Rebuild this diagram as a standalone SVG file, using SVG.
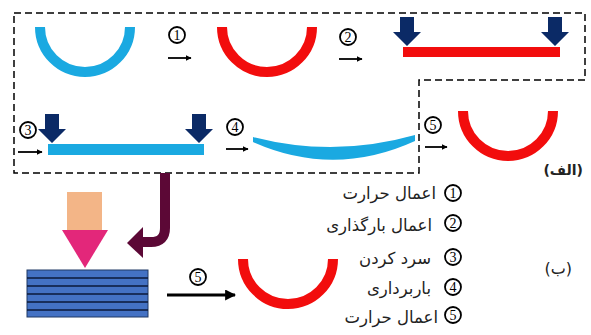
<svg xmlns="http://www.w3.org/2000/svg" width="591" height="335" viewBox="0 0 591 335">
<defs>
<style>
.blue{stroke:#1aa9e1;fill:none;stroke-width:10}
.red{stroke:#f20d0d;fill:none;stroke-width:10}
.num circle{fill:#fff;stroke:#000;stroke-width:1.8}
.num text{font-family:"Liberation Serif",serif;font-size:14px;text-anchor:middle}
.arr{stroke:#000;stroke-width:1.8;fill:none}
.lbl{font-family:"DejaVu Sans",sans-serif;font-size:16.5px;direction:rtl;fill:#222}
.press{fill:#0b2a66}
</style>
<marker id="ah" viewBox="0 0 10 10" refX="9" refY="5" markerWidth="6" markerHeight="6" orient="auto" markerUnits="userSpaceOnUse">
<path d="M0,0 L10,5 L0,10 Z" fill="#000"/>
</marker>
<marker id="ahb" viewBox="0 0 10 10" refX="9" refY="5" markerWidth="11" markerHeight="11" orient="auto" markerUnits="userSpaceOnUse">
<path d="M0,0 L10,5 L0,10 Z" fill="#000"/>
</marker>
<g id="down">
<path d="M-7,0 H7 V15 H14 L0,29 L-14,15 H-7 Z"/>
</g>
</defs>
<rect width="591" height="335" fill="#fff"/>

<g id="frame">
<path d="M14,13 H585 V80 H419 V173 H14 Z" fill="none" stroke="#000" stroke-width="1.5" stroke-dasharray="7,4"/>
</g>

<g id="part1">
<path class="blue" d="M40,27 A45,45 0 0 0 130,27"/>
</g>
<g id="part2">
<path class="red" d="M222,27 A45,45 0 0 0 312,27"/>
</g>
<g id="part3">
<rect x="403" y="47" width="157" height="10" fill="#f20d0d"/>
<use href="#down" class="press" x="407" y="17"/>
<use href="#down" class="press" x="555" y="17"/>
</g>
<g id="part4">
<rect x="48" y="144" width="156" height="11" fill="#1aa9e1"/>
<use href="#down" class="press" x="52" y="114"/>
<use href="#down" class="press" x="199" y="114"/>
</g>
<g id="part5">
<path d="M253,137 Q334,158 415,135 L415,141 Q334,178 253,142 Z" fill="#1aa9e1"/>
</g>
<g id="part6">
<path class="red" d="M463,111 A45,45 0 0 0 553,111"/>
</g>

<g id="connectors">
<line class="arr" x1="168" y1="58" x2="191" y2="58" marker-end="url(#ah)"/>
<line class="arr" x1="339" y1="59" x2="362" y2="59" marker-end="url(#ah)"/>
<line class="arr" x1="18" y1="152" x2="42" y2="152" marker-end="url(#ah)"/>
<line class="arr" x1="226" y1="149" x2="248" y2="149" marker-end="url(#ah)"/>
<line class="arr" x1="425" y1="147" x2="447" y2="147" marker-end="url(#ah)"/>
<line stroke="#000" stroke-width="3.2" x1="167" y1="295" x2="235" y2="295" marker-end="url(#ahb)"/>
<path d="M165,173 V228 Q165,242 151,242 H140" fill="none" stroke="#5c0836" stroke-width="10"/>
<path d="M143,227 L127,243 L143,258 Z" fill="#5c0836"/>
</g>

<g id="n1" class="num"><circle cx="177" cy="35" r="8"/><text x="177" y="40">1</text></g>
<g id="n2" class="num"><circle cx="348" cy="37" r="8"/><text x="348" y="42">2</text></g>
<g id="n3" class="num"><circle cx="28" cy="130" r="8"/><text x="28" y="135">3</text></g>
<g id="n4" class="num"><circle cx="235" cy="127" r="8"/><text x="235" y="132">4</text></g>
<g id="n5" class="num"><circle cx="433" cy="125" r="8"/><text x="433" y="130">5</text></g>
<g id="n5b" class="num"><circle cx="198" cy="277" r="8"/><text x="198" y="282">5</text></g>

<g id="labelA"><text x="583" y="175" font-family="DejaVu Sans,sans-serif" font-size="14" font-weight="bold" direction="rtl" fill="#222">(الف)</text></g>
<g id="labelB"><text x="572" y="274" font-family="DejaVu Sans,sans-serif" font-size="16" direction="rtl" fill="#222">(ب)</text></g>

<g id="process">
<rect x="67" y="192" width="35" height="38" fill="#f3b587"/>
<path d="M62,230 H108 L85,268 Z" fill="#e3277a"/>
</g>

<g id="stack">
<rect x="27" y="270" width="121" height="47" fill="#4472c4" stroke="#1f3864" stroke-width="1"/>
<g stroke="#0b1a3a" stroke-width="1.5">
<line x1="27" y1="278" x2="148" y2="278"/>
<line x1="27" y1="286" x2="148" y2="286"/>
<line x1="27" y1="294" x2="148" y2="294"/>
<line x1="27" y1="302" x2="148" y2="302"/>
<line x1="27" y1="310" x2="148" y2="310"/>
</g>
</g>

<g id="partB">
<path class="red" d="M243,259 A45,45 0 0 0 333,259"/>
</g>

<g id="legend">
<g class="num"><circle cx="453" cy="193" r="8"/><text x="453" y="198">1</text></g>
<g class="num"><circle cx="453" cy="223" r="8"/><text x="453" y="228">2</text></g>
<g class="num"><circle cx="453" cy="257" r="8"/><text x="453" y="262">3</text></g>
<g class="num"><circle cx="453" cy="287" r="8"/><text x="453" y="292">4</text></g>
<g class="num"><circle cx="453" cy="315" r="8"/><text x="453" y="320">5</text></g>
<text class="lbl" x="436" y="199">اعمال حرارت</text>
<text class="lbl" x="432" y="231">اعمال بارگذاری</text>
<text class="lbl" x="431" y="264">سرد کردن</text>
<text class="lbl" x="431" y="294">باربرداری</text>
<text class="lbl" x="438" y="323">اعمال حرارت</text>
</g>
</svg>
